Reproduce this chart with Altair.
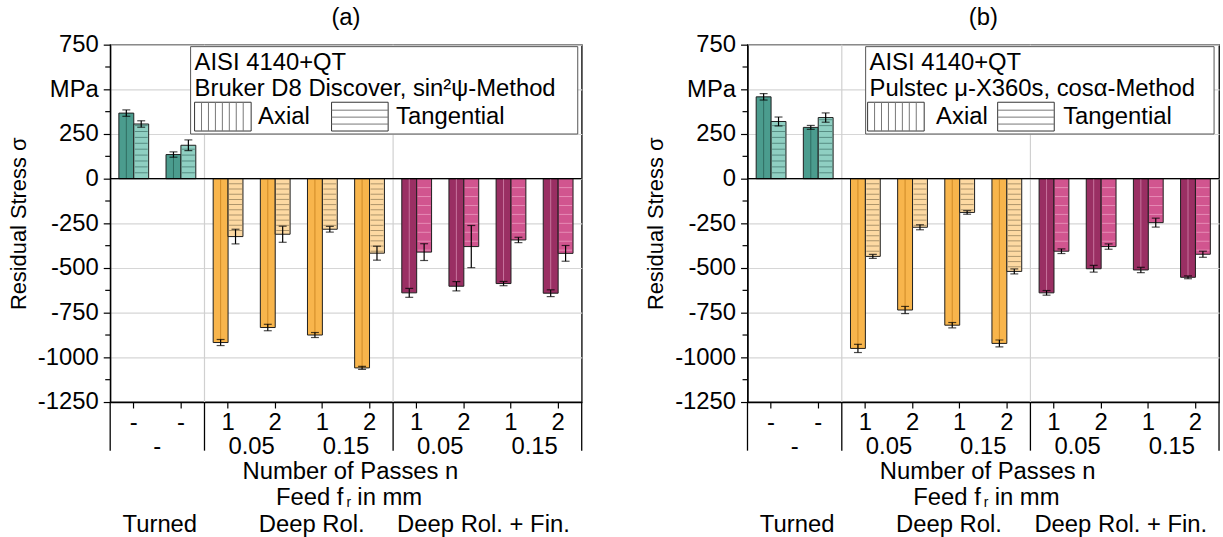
import altair as alt
import pandas as pd

# ---------------- data ----------------
slots = ["T1", "T2", "D1", "D2", "D3", "D4", "F1", "F2", "F3", "F4"]
passes = ["-", "-", "1", "2", "1", "2", "1", "2", "1", "2"]
process = ["Turned"] * 2 + ["Deep Rol."] * 4 + ["Deep Rol. + Fin."] * 4
feed_slots = ["T1", "D1", "D3", "F1", "F3"]
feed_labels = ["-", "0.05", "0.15", "0.05", "0.15"]
group_labels = ["Turned", "Deep Rol.", "Deep Rol. + Fin."]
types = ["Axial", "Tangential"]

a_axial = [367, 135, -917, -833, -875, -1059, -639, -602, -587, -641]
a_axial_err = [18, 15, 17, 18, 14, 8, 25, 26, 12, 19]
a_tang = [306, 187, -324, -311, -283, -417, -411, -380, -343, -418]
a_tang_err = [18, 30, 41, 45, 16, 39, 47, 118, 15, 44]

b_axial = [458, 287, -950, -735, -820, -922, -639, -504, -511, -552]
b_axial_err = [18, 11, 23, 20, 15, 19, 13, 19, 15, 8]
b_tang = [320, 342, -435, -272, -189, -519, -406, -380, -246, -423]
b_tang_err = [25, 26, 11, 14, 10, 14, 13, 15, 25, 17]

y_ticks = list(range(-1250, 751, 250))
y_minor = list(range(-1125, 751, 250))

# ---------------- style ----------------
FONT = "Liberation Sans"
FS = 24
W, H = 475, 360
FILL = {
    ("Turned", "Axial"): "#4b9c8e", ("Turned", "Tangential"): "#8fcfc2",
    ("Deep Rol.", "Axial"): "#f8b54c", ("Deep Rol.", "Tangential"): "#fdd9a2",
    ("Deep Rol. + Fin.", "Axial"): "#9a2f63", ("Deep Rol. + Fin.", "Tangential"): "#d1558f",
}
LINE = {"Turned": "#2f6c61", "Deep Rol.": "#d08a26", "Deep Rol. + Fin.": "#c8749d"}
STRIPE = {"Turned": ("#3f7168", 33), "Deep Rol.": ("#8c7754", 29), "Deep Rol. + Fin.": ("#f0a3c6", 50)}

one = pd.DataFrame({"d": [0]})

xscale = alt.Scale(domain=slots, paddingInner=0, paddingOuter=0)
x_axis = alt.Axis(labels=False, tickSize=6, tickColor="black", tickWidth=1.2,
                  domain=True, domainColor="black", domainWidth=1.3, grid=False, title=None)
yscale = alt.Scale(domain=[-1250, 750], nice=False, zero=False)
y_axis = alt.Axis(values=y_ticks, labelExpr="datum.value == 500 ? 'MPa' : '' + datum.value",
                  title="Residual Stress σ", tickSize=7, tickColor="black", tickWidth=1.2,
                  labelPadding=5, titlePadding=7, grid=True, gridColor="#d6d6d6", gridWidth=1.2,
                  domainColor="black", domainWidth=1.3, labelFont=FONT, labelFontSize=FS,
                  labelColor="black", titleFont=FONT, titleFontSize=22, titleFontWeight="normal",
                  titleColor="black")


def X(bp=None):
    if bp is None:
        return alt.X("slot:N", sort=slots, scale=xscale, axis=x_axis)
    return alt.X("slot:N", sort=slots, scale=xscale, axis=x_axis, bandPosition=bp)


def Y(f):
    return alt.Y(f"{f}:Q", scale=yscale, axis=y_axis)


XO = alt.XOffset("type:N", sort=types, scale=alt.Scale(domain=types, paddingInner=0, paddingOuter=0.583))


def txt(text, x, y, align="left", size=FS, dy=0):
    return alt.Chart(one).mark_text(text=text, font=FONT, fontSize=size, align=align,
                                    baseline="middle", color="black", dy=dy).encode(
        x=alt.value(x), y=alt.value(y))


def hline(x1, x2, y, color="#777", w=1):
    return alt.Chart(one).mark_rule(color=color, strokeWidth=w).encode(
        x=alt.value(x1), x2=alt.value(x2), y=alt.value(y))


def vline(x, y1, y2, color="#777", w=1):
    return alt.Chart(one).mark_rule(color=color, strokeWidth=w).encode(
        x=alt.value(x), y=alt.value(y1), y2=alt.value(y2))


def panel(axial, aerr, tang, terr, tag, method, lg):
    rows = []
    for i, s in enumerate(slots):
        for t, v, e in (("Axial", axial[i], aerr[i]), ("Tangential", tang[i], terr[i])):
            rows.append({"slot": s, "type": t, "value": v, "lo": v - e, "hi": v + e,
                         "fill": FILL[(process[i], t)], "line": LINE[process[i]]})
    bars = pd.DataFrame(rows)

    stripes = []
    for i, s in enumerate(slots):
        col, step = STRIPE[process[i]]
        v = tang[i]
        sign = 1 if v > 0 else -1
        k = 1
        while k * step < abs(v) - 8:
            stripes.append({"slot": s, "type": "Tangential", "value": sign * k * step, "col": col})
            k += 1
    stripes = pd.DataFrame(stripes)

    first = [slots[i] for i in range(len(slots)) if i == 0 or process[i] != process[i - 1]]
    inner = pd.DataFrame({"slot": first[1:]})
    starts = pd.DataFrame({"slot": first})
    last = pd.DataFrame({"slot": [slots[-1]]})
    lab1 = pd.DataFrame({"slot": slots, "t": passes})
    lab2 = pd.DataFrame({"slot": feed_slots, "t": feed_labels})

    layers = [
        alt.Chart(inner).mark_rule(color="#d0d0d0", strokeWidth=1.2).encode(
            x=X(0), y=alt.value(0), y2=alt.value(H)),
        alt.Chart(bars).mark_bar(stroke="#1e1e1e", strokeWidth=1).encode(
            x=X(), xOffset=XO, y=Y("value"), y2=alt.datum(0), color=alt.Color("fill:N", scale=None)),
        alt.Chart(stripes).mark_tick(size=13, thickness=1).encode(
            x=X(), xOffset=XO, y=Y("value"), color=alt.Color("col:N", scale=None)),
        alt.Chart(bars).transform_filter("datum.type == 'Axial'").mark_rule(strokeWidth=1).encode(
            x=X(), xOffset=XO, y=Y("value"), y2=alt.datum(0), color=alt.Color("line:N", scale=None)),
        alt.Chart(bars).mark_rule(color="black", strokeWidth=1.2).encode(
            x=X(), xOffset=XO, y=Y("lo"), y2="hi"),
        alt.Chart(bars).mark_tick(color="black", size=8, thickness=1.2).encode(
            x=X(), xOffset=XO, y=Y("lo")),
        alt.Chart(bars).mark_tick(color="black", size=8, thickness=1.2).encode(
            x=X(), xOffset=XO, y=Y("hi")),
        alt.Chart(pd.DataFrame({"value": [0]})).mark_rule(color="black", strokeWidth=1.3).encode(
            y=Y("value")),
        alt.Chart(pd.DataFrame({"value": y_minor})).mark_rule(color="black", strokeWidth=1.2).encode(
            y=Y("value"), x=alt.value(-5), x2=alt.value(0)),
        alt.Chart(starts).mark_rule(color="black", strokeWidth=1.3).encode(
            x=X(0), y=alt.value(H), y2=alt.value(H + 49)),
        alt.Chart(last).mark_rule(color="black", strokeWidth=1.3).encode(
            x=X(1), y=alt.value(H), y2=alt.value(H + 49)),
        alt.Chart(lab1).mark_text(font=FONT, fontSize=FS, baseline="middle", color="black").encode(
            x=X(), y=alt.value(H + 21), text="t:N"),
        alt.Chart(lab2).mark_text(font=FONT, fontSize=FS, baseline="middle", color="black").encode(
            x=X(1), y=alt.value(H + 45), text="t:N"),
        txt("Number of Passes n", 242, H + 71, align="center"),
        txt("Feed f", 235, H + 97, align="right"),
        txt("r", 238, H + 102, size=14),
        txt("in mm", 249, H + 97),
        txt(group_labels[0], 50, H + 124, align="center"),
        txt(group_labels[1], 203, H + 124, align="center"),
        txt(group_labels[2], 376, H + 124, align="center"),
    ]

    # legend box
    bx0, bx1, tx, s1, s2, t1, t2 = lg
    layers.append(alt.Chart(one).mark_rect(fill="white", stroke="#555", strokeWidth=1).encode(
        x=alt.value(bx0), x2=alt.value(bx1), y=alt.value(2), y2=alt.value(90)))
    layers.append(txt("AISI 4140+QT", tx, 19))
    layers.append(txt(method, tx, 45))
    sy0, sy1 = 58, 87
    layers.append(alt.Chart(one).mark_rect(fill="white", stroke="#333", strokeWidth=1).encode(
        x=alt.value(s1), x2=alt.value(s1 + 57), y=alt.value(sy0), y2=alt.value(sy1)))
    for k in range(1, 8):
        layers.append(vline(s1 + 7 * k, sy0, sy1))
    layers.append(txt("Axial", t1, 73))
    layers.append(alt.Chart(one).mark_rect(fill="white", stroke="#333", strokeWidth=1).encode(
        x=alt.value(s2), x2=alt.value(s2 + 57), y=alt.value(sy0), y2=alt.value(sy1)))
    for k in range(1, 4):
        layers.append(hline(s2, s2 + 57, sy0 + 7 * k + 1))
    layers.append(txt("Tangential", t2, 73))

    return alt.layer(*layers).properties(
        width=W, height=H,
        title=alt.TitleParams(tag, font=FONT, fontSize=FS, fontWeight="normal", color="black", offset=3))


pa = panel(a_axial, a_axial_err, a_tang, a_tang_err, "(a)",
           "Bruker D8 Discover, sin²ψ-Method", (81, 471, 85, 85, 223, 149, 288))
pb = panel(b_axial, b_axial_err, b_tang, b_tang_err, "(b)",
           "Pulstec μ-X360s, cosα-Method", (119, 470, 123, 121, 252, 190, 318))

chart = alt.hconcat(pa, pb, spacing=60).properties(
    padding={"left": 6, "top": 3, "right": 2, "bottom": 0},
    background="white",
).configure_view(stroke="black", strokeWidth=1.3).configure_axis(labelFont=FONT)

chart.save("out.html", embed_options={"renderer": "svg", "actions": False})
